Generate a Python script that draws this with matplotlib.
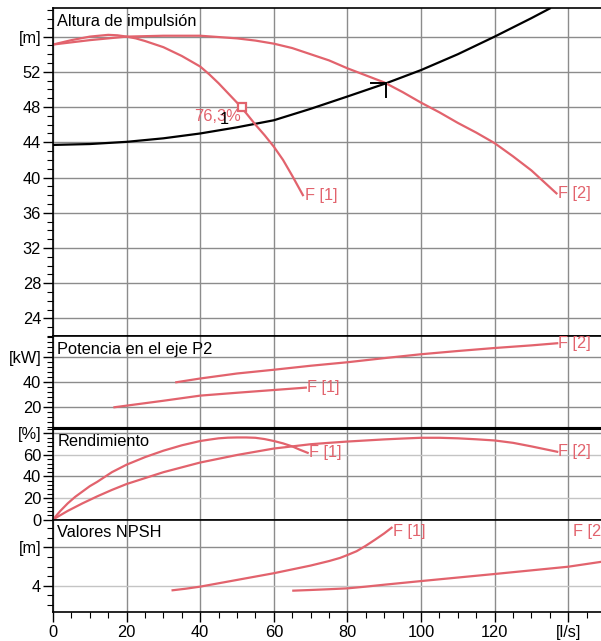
import matplotlib
matplotlib.use("Agg")
import matplotlib.pyplot as plt
from matplotlib.ticker import MultipleLocator, FixedLocator, FixedFormatter

plt.rcParams['font.family'] = ['Liberation Sans', 'DejaVu Sans']

# colours
RED = '#e2636d'
GRID = '#8c8c8c'
GRID_LIGHT = '#c4c4c4'
FS = 11.8

# flow axis (l/s)
q_ticks = [0, 20, 40, 60, 80, 100, 120, 140]
q_labels = ['0', '20', '40', '60', '80', '100', '120', '[l/s]']

# Altura de impulsion (m)
h1_q = [0, 2.5, 5, 7.5, 10, 12.5, 15, 17.5, 20, 22.5, 25, 27.5, 30, 32.5, 35, 37.5, 40,
        42.5, 45, 47.5, 50, 52.5, 55, 57.5, 60, 62.5, 65, 67.9]
h1_h = [55.1, 55.35, 55.6, 55.8, 56.0, 56.1, 56.2, 56.15, 56.0, 55.8, 55.5, 55.15, 54.8,
        54.3, 53.8, 53.2, 52.6, 51.7, 50.7, 49.6, 48.5, 47.3, 46.0, 44.8, 43.5, 42.0, 40.2, 38.0]
h2_q = [0, 5, 10, 15, 20, 30, 40, 50, 55, 60, 65, 70, 75, 80, 85, 90, 95, 100, 105, 110,
        115, 120, 125, 130, 136.8]
h2_h = [55.1, 55.35, 55.6, 55.8, 56.0, 56.1, 56.1, 55.8, 55.55, 55.2, 54.7, 54.0, 53.3,
        52.4, 51.6, 50.8, 49.7, 48.5, 47.4, 46.2, 45.1, 43.9, 42.4, 40.8, 38.2]
sys_q = [0, 10, 20, 30, 40, 50, 60, 70, 80, 90.5, 100, 110, 120, 130, 135]
sys_h = [43.7, 43.8, 44.05, 44.45, 45.0, 45.7, 46.5, 47.8, 49.2, 50.7, 52.2, 54.0, 56.0, 58.1, 59.2]
duty_q, duty_h = 90.5, 50.7
bep_q, bep_h = 51.3, 48.0
bep_label = '76,3%'

# Potencia en el eje P2 (kW)
p1_q = [16.7, 30, 40, 50, 60, 68.7]
p1_p = [20.0, 25.2, 29.3, 31.6, 33.8, 35.7]
p2_q = [33.5, 40, 50, 60, 70, 80, 90, 100, 110, 120, 130, 137]
p2_p = [40.0, 43.0, 47.0, 50.0, 53.2, 56.0, 59.3, 62.4, 65.0, 67.4, 69.5, 71.2]

# Rendimiento (%)
e1_q = [0, 2, 4, 6, 8, 10, 12, 14, 16, 18, 20, 22.5, 25, 27.5, 30, 32.5, 35, 37.5, 40,
        42.5, 45, 47.5, 50, 52.5, 55, 57.5, 60, 62.5, 65, 67, 69.2]
e1_e = [0, 8, 15, 21, 26, 31, 35, 39.5, 44, 47.5, 51, 54.5, 58, 61, 64, 66.5, 69, 71, 73,
        74.3, 75.5, 76.1, 76.3, 76.3, 76, 74.8, 73, 70.8, 68, 65, 62]
e2_q = [0, 4, 8, 12, 16, 20, 25, 30, 35, 40, 45, 50, 55, 60, 65, 70, 75, 80, 85, 90, 95,
        100, 105, 110, 115, 120, 125, 130, 133.5, 137]
e2_e = [0, 8, 15, 21.5, 27.5, 33, 38.5, 44, 48.5, 53, 56.5, 60, 63, 66, 68, 70, 71.3, 72.5,
        73.5, 74.5, 75.3, 76, 76, 75.5, 74.6, 73.5, 71.3, 68, 65.5, 63]

# Valores NPSH (m)
n1_q = [32.5, 36, 40, 45, 50, 55, 60, 65, 70, 75, 78, 80, 82.5, 85, 87.5, 90, 92]
n1_n = [3.52, 3.68, 3.9, 4.25, 4.6, 4.95, 5.3, 5.7, 6.1, 6.57, 6.9, 7.2, 7.6, 8.17, 8.8, 9.46, 10.05]
n2_q = [65.3, 70, 75, 80, 85, 90, 100, 110, 120, 130, 140, 150]
n2_n = [3.48, 3.55, 3.63, 3.72, 3.9, 4.1, 4.48, 4.85, 5.22, 5.6, 5.98, 6.55]

W, H = 601, 641
fig = plt.figure(figsize=(W / 100, H / 100), dpi=100)


def panel(top, bottom):
    return fig.add_axes([53 / W, 1 - bottom / H, (W - 53) / W, (bottom - top) / H])


ax_h = panel(8, 336)
ax_p = panel(336, 428)
ax_e = panel(428, 519.5)
ax_n = panel(519.5, 612.3)
axes = [ax_h, ax_p, ax_e, ax_n]

ax_h.set_ylim(22.0, 59.25)
ax_p.set_ylim(3.4, 77.0)
ax_e.set_ylim(0, 85.1)
ax_n.set_ylim(1.22, 10.91)

yticks = {
    ax_h: ([24, 28, 32, 36, 40, 44, 48, 52, 56], ['24', '28', '32', '36', '40', '44', '48', '52', '[m]'], 1),
    ax_p: ([20, 40, 60], ['20', '40', '[kW]'], 4),
    ax_e: ([0, 20, 40, 60, 80], ['0', '20', '40', '60', '[%]'], 4),
    ax_n: ([4, 8], ['4', '[m]'], 1),
}
titles = {ax_h: 'Altura de impulsión', ax_p: 'Potencia en el eje P2',
          ax_e: 'Rendimiento', ax_n: 'Valores NPSH'}

for ax in axes:
    ax.set_xlim(0, 148.9)
    ax.xaxis.set_major_locator(FixedLocator(q_ticks))
    ax.xaxis.set_minor_locator(MultipleLocator(5))
    ticks, labels, minor = yticks[ax]
    ax.yaxis.set_major_locator(FixedLocator(ticks))
    ax.yaxis.set_major_formatter(FixedFormatter(labels))
    ax.yaxis.set_minor_locator(MultipleLocator(minor))
    ax.tick_params(axis='y', which='major', length=7, width=1, pad=1.5, labelsize=FS)
    ax.tick_params(axis='y', which='minor', length=4, width=0.8)
    ax.grid(True, which='major', color=GRID, lw=1)
    ax.set_axisbelow(True)
    ax.spines['right'].set_visible(False)
    for s in ['left', 'top', 'bottom']:
        ax.spines[s].set_color('black')
        ax.spines[s].set_linewidth(1.2)
    ax.annotate(titles[ax], xy=(0, 1), xycoords='axes fraction', xytext=(3, -4),
                textcoords='offset points', ha='left', va='top', fontsize=FS)
    if ax is not ax_n:
        ax.tick_params(axis='x', which='both', length=0, labelbottom=False)

ax_n.xaxis.set_major_formatter(FixedFormatter(q_labels))
ax_n.tick_params(axis='x', which='major', length=7, width=1, pad=2.5, labelsize=FS)
ax_n.tick_params(axis='x', which='minor', length=4, width=0.8)

# lighter horizontal grid rows
for ax, vals in [(ax_e, [20, 60]), (ax_n, [4])]:
    for gl, t in zip(ax.get_ygridlines(), yticks[ax][0]):
        if t in vals:
            gl.set_color(GRID_LIGHT)

ax_p.spines['bottom'].set_linewidth(2.2)
ax_e.spines['top'].set_linewidth(2.2)
ax_e.spines['bottom'].set_color('#444444')

lw = 1.6
lab = dict(color=RED, fontsize=FS, va='center', ha='left')

# head panel
ax_h.plot(sys_q, sys_h, color='black', lw=lw)
ax_h.plot(h1_q, h1_h, color=RED, lw=lw)
ax_h.plot(h2_q, h2_h, color=RED, lw=lw)
ax_h.plot([duty_q - 4, duty_q], [duty_h, duty_h], color='black', lw=1.4)
ax_h.plot([duty_q, duty_q], [duty_h, duty_h - 1.6], color='black', lw=1.4)
ax_h.plot([bep_q], [bep_h], marker='s', ms=5.5, mfc='white', mec=RED, mew=1.6)
ax_h.annotate(bep_label, xy=(bep_q, bep_h), xytext=(-1, -7), textcoords='offset points',
              ha='right', va='center', color=RED, fontsize=FS)
ax_h.text(46.6, 45.7, '1', color='black', fontsize=FS, ha='center', va='bottom')
ax_h.text(h1_q[-1] + 0.5, h1_h[-1], 'F [1]', **lab)
ax_h.text(h2_q[-1] + 0.5, h2_h[-1], 'F [2]', **lab)

# power panel
ax_p.plot(p1_q, p1_p, color=RED, lw=lw)
ax_p.plot(p2_q, p2_p, color=RED, lw=lw)
ax_p.text(p1_q[-1] + 0.3, p1_p[-1], 'F [1]', **lab)
ax_p.text(p2_q[-1] + 0.3, p2_p[-1], 'F [2]', **lab)

# efficiency panel
ax_e.plot(e1_q, e1_e, color=RED, lw=lw)
ax_e.plot(e2_q, e2_e, color=RED, lw=lw)
ax_e.text(e1_q[-1] + 0.3, e1_e[-1], 'F [1]', **lab)
ax_e.text(e2_q[-1] + 0.3, e2_e[-1], 'F [2]', **lab)

# NPSH panel
ax_n.plot(n1_q, n1_n, color=RED, lw=lw)
ax_n.plot(n2_q, n2_n, color=RED, lw=lw)
ax_n.text(n1_q[-1] + 0.3, n1_n[-1] - 0.4, 'F [1]', **lab)
ax_n.text(141.3, 9.63, 'F [2]', clip_on=False, **lab)

fig.savefig('out.png', dpi=100)
